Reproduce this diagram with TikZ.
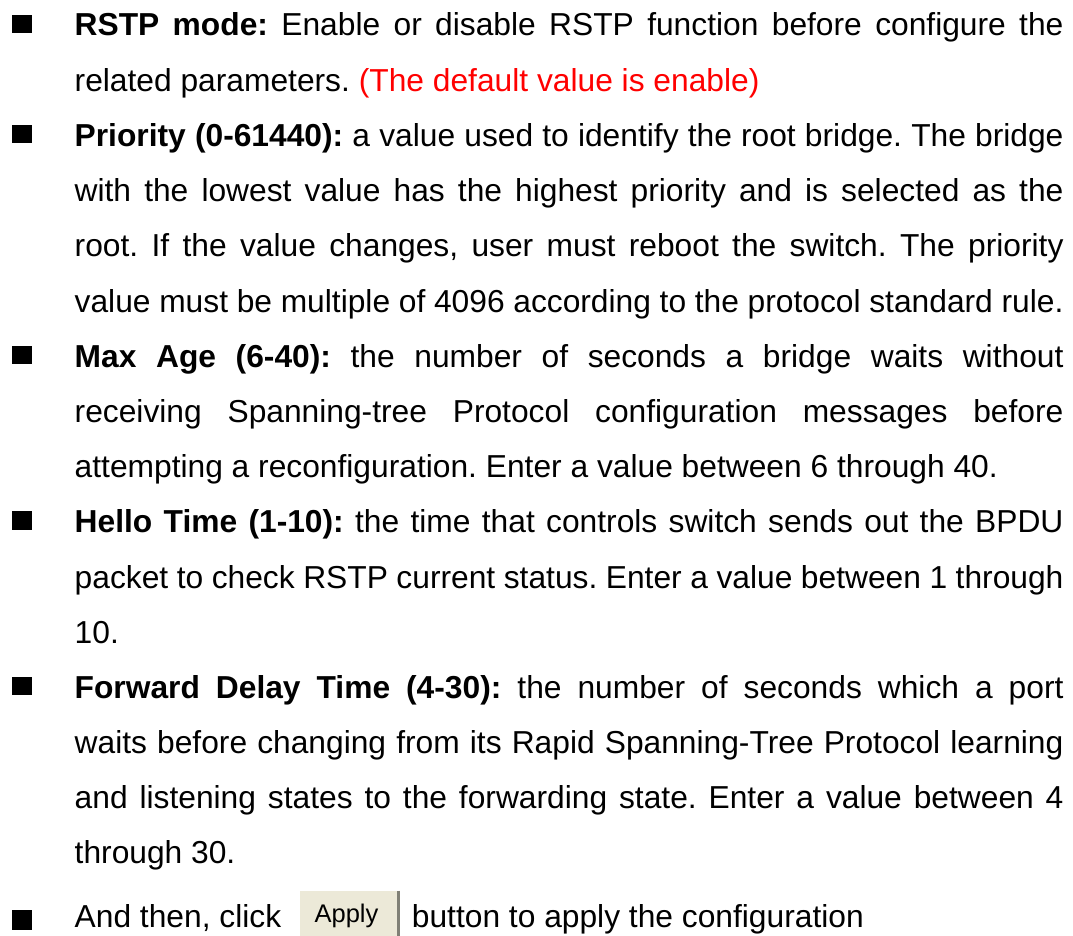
\documentclass[tikz,border=0pt]{standalone}
\usepackage{fontspec}
\setmainfont{Liberation Sans}
\definecolor{btnfill}{RGB}{236,233,216}
\definecolor{btnedge}{RGB}{128,128,118}
\newcommand{\jl}[1]{\hbox to 988.8pt{#1}}
\frenchspacing
\begin{document}
\begin{tikzpicture}[x=1pt,y=-1pt,
  txt/.style={anchor=base west, inner sep=0pt, font=\fontsize{31.75}{38}\selectfont\frenchspacing},
  bul/.style={fill=black, inner sep=0pt, minimum width=19.5pt, minimum height=18.5pt},
  small/.style={anchor=base, inner sep=0pt, font=\fontsize{25.5}{30}\selectfont}]
\useasboundingbox (0,0) rectangle (1073,936);
% bullets
\node[bul] (b1) at (21.8,23.8) {};
\node[bul] (b2) at (21.8,134.2) {};
\node[bul] (b3) at (21.8,355) {};
\node[bul] (b4) at (21.8,520.6) {};
\node[bul] (b5) at (21.8,686.2) {};
\node[bul, minimum height=20pt] (b6) at (21.8,920) {};
% text lines
\node[txt] (l1) at (74.5,36) {\jl{\textbf{RSTP mode:} Enable or disable RSTP function before configure the}};
\node[txt] (l2) at (74.5,91.2) {related parameters. \textcolor{red}{(The default value is enable)}};
\node[txt] (l3) at (74.5,146.4) {\jl{\textbf{Priority (0-61440):} a value used to identify the root bridge. The bridge}};
\node[txt] (l4) at (74.5,201.6) {\jl{with the lowest value has the highest priority and is selected as the}};
\node[txt] (l5) at (74.5,256.8) {\jl{root. If the value changes, user must reboot the switch. The priority}};
\node[txt] (l6) at (74.5,312) {\jl{value must be multiple of 4096 according to the protocol standard rule.}};
\node[txt] (l7) at (74.5,367.2) {\jl{\textbf{Max Age (6-40):} the number of seconds a bridge waits without}};
\node[txt] (l8) at (74.5,422.4) {\jl{receiving Spanning-tree Protocol configuration messages before}};
\node[txt] (l9) at (74.5,477.6) {attempting a reconfiguration. Enter a value between 6 through 40.};
\node[txt] (l10) at (74.5,532.8) {\jl{\textbf{Hello Time (1-10):} the time that controls switch sends out the BPDU}};
\node[txt] (l11) at (74.5,588) {\jl{packet to check RSTP current status. Enter a value between 1 through}};
\node[txt] (l12) at (74.5,643.2) {10.};
\node[txt] (l13) at (74.5,698.4) {\jl{\textbf{Forward Delay Time (4-30):} the number of seconds which a port}};
\node[txt] (l14) at (74.5,753.6) {\jl{waits before changing from its Rapid Spanning-Tree Protocol learning}};
\node[txt] (l15) at (74.5,808.8) {\jl{and listening states to the forwarding state. Enter a value between 4}};
\node[txt] (l16) at (74.5,863.5) {through 30.};
% last line with Apply button
\node[txt] (l17) at (74.5,927) {And then, click};
\fill[btnfill] (300,890.5) rectangle (397.2,936);
\draw[btnedge, line width=2.4pt] (398.4,890.5) -- (398.4,936);
\node[small] (apply) at (346.5,922.5) {Apply};
\node[txt] (l17b) at (411.7,927) {button to apply the configuration};
\end{tikzpicture}
\end{document}
